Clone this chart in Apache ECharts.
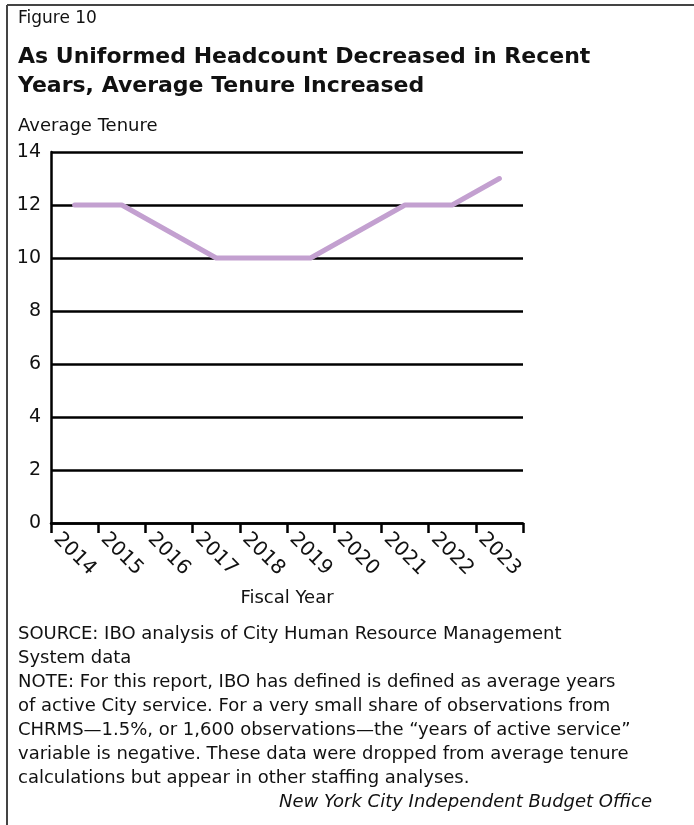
<!DOCTYPE html>
<html>
<head>
<meta charset="utf-8">
<script src="https://cdn.jsdelivr.net/npm/echarts@6/dist/echarts.min.js"></script>
<style>
  html, body { margin: 0; padding: 0; background: #fff; }
  #chart { width: 694px; height: 825px; }
</style>
</head>
<body>
<div id="chart"></div>
<script>
// Fiscal years and average tenure (years of active City service)
const years = ['2014', '2015', '2016', '2017', '2018', '2019', '2020', '2021', '2022', '2023'];
const tenure = [12, 12, 11, 10, 10, 10, 11, 12, 12, 13];
const yTicks = { min: 0, max: 14, interval: 2 };

const figureLabel = 'Figure 10';
const titleLines = ['As Uniformed Headcount Decreased in Recent', 'Years, Average Tenure Increased'];
const yAxisTitle = 'Average Tenure';
const xAxisTitle = 'Fiscal Year';
const noteLines = [
  'SOURCE: IBO analysis of City Human Resource Management',
  'System data',
  'NOTE: For this report, IBO has defined is defined as average years',
  'of active City service. For a very small share of observations from',
  'CHRMS\u20141.5%, or 1,600 observations\u2014the \u201cyears of active service\u201d',
  'variable is negative. These data were dropped from average tenure',
  'calculations but appear in other staffing analyses.'
];
const credit = 'New York City Independent Budget Office';

const FONT = '"DejaVu Sans", "Open Sans", sans-serif';
const chart = echarts.init(document.getElementById('chart'), null, { renderer: 'canvas' });

const textEl = (txt, x, y, opts) => ({
  type: 'text', x: x, y: y,
  style: Object.assign({
    text: txt, fill: '#111', font: '18px ' + FONT,
    textAlign: 'left', textVerticalAlign: 'middle'
  }, opts || {})
});

const graphics = [
  // frame: top and left rules
  { type: 'line', shape: { x1: 7, y1: 5, x2: 694, y2: 5 }, style: { stroke: '#444', lineWidth: 2 } },
  { type: 'line', shape: { x1: 7, y1: 5, x2: 7, y2: 825 }, style: { stroke: '#444', lineWidth: 2 } },
  textEl(figureLabel, 18, 19, { font: '17px ' + FONT }),
  textEl(titleLines[0], 18, 57, { font: 'bold 22px ' + FONT }),
  textEl(titleLines[1], 18, 86, { font: 'bold 22px ' + FONT }),
  textEl(yAxisTitle, 18, 126),
  textEl(xAxisTitle, 287, 598, { textAlign: 'center' })
];
noteLines.forEach((line, i) => graphics.push(textEl(line, 18, 634 + i * 24)));
graphics.push(textEl(credit, 652, 802, { textAlign: 'right', font: 'italic 18px ' + FONT }));

chart.setOption({
  animation: false,
  backgroundColor: '#fff',
  textStyle: { fontFamily: FONT },
  grid: { left: 51, right: 171, top: 152, bottom: 302, containLabel: false },
  xAxis: {
    type: 'category',
    data: years,
    boundaryGap: true,
    axisLine: { lineStyle: { color: '#000', width: 2.5 } },
    axisTick: { show: true, length: 10, lineStyle: { color: '#000', width: 2.5 } },
    axisLabel: {
      rotate: -45, align: 'center', verticalAlign: 'middle', margin: 31,
      color: '#111', fontSize: 20, fontFamily: FONT
    },
    splitLine: { show: false }
  },
  yAxis: {
    type: 'value',
    min: yTicks.min, max: yTicks.max, interval: yTicks.interval,
    axisLine: { show: true, lineStyle: { color: '#000', width: 2.5 } },
    axisTick: { show: false },
    axisLabel: { color: '#111', fontSize: 19, fontFamily: FONT, margin: 10 },
    splitLine: { show: true, lineStyle: { color: '#000', width: 2.5 } }
  },
  series: [{
    type: 'line',
    data: tenure,
    showSymbol: false,
    symbol: 'none',
    lineStyle: { color: '#c3a0d0', width: 5, cap: 'round', join: 'round' },
    z: 5
  }],
  graphic: graphics
});
</script>
</body>
</html>
